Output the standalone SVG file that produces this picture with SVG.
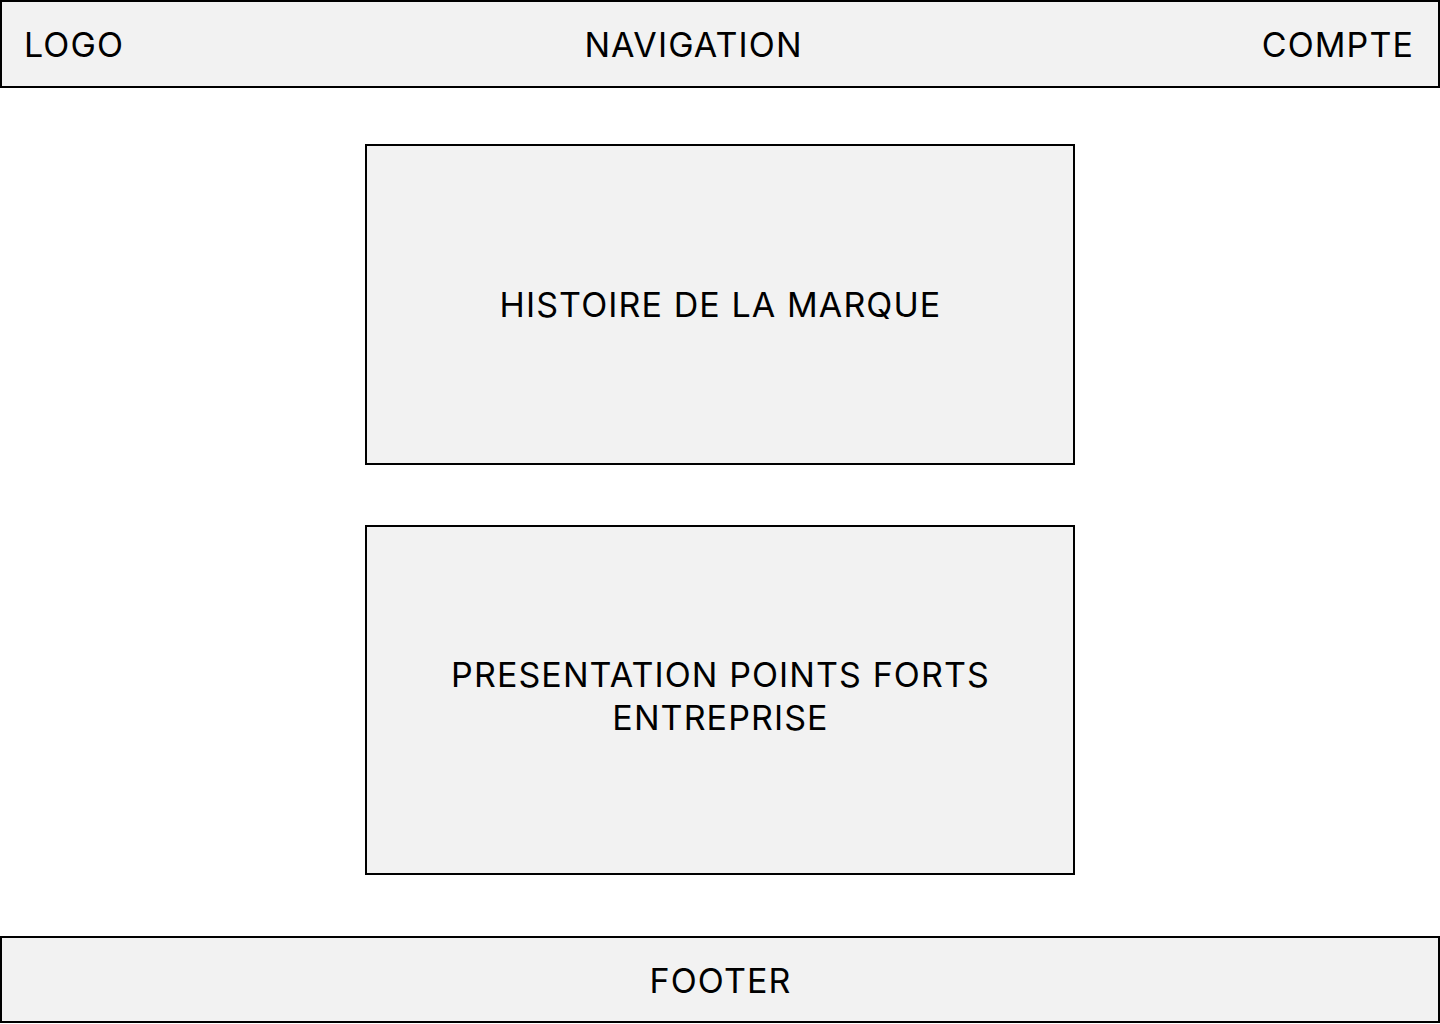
<svg xmlns="http://www.w3.org/2000/svg" width="1440" height="1024" viewBox="0 0 1440 1024">
<style>
.box{fill:#f2f2f2;stroke:#000;stroke-width:2}
.t{font-family:Inter,"Noto Sans","Liberation Sans",sans-serif;font-size:34px;fill:#000;letter-spacing:1.1px}
.c{text-anchor:middle}
</style>
<rect width="1440" height="1024" fill="#fff"/>
<g id="header">
<rect class="box" x="1" y="1" width="1438" height="86"/>
<text class="t" x="24" y="57">LOGO</text>
<text class="t c" x="693.5" y="57">NAVIGATION</text>
<text class="t" x="1414" y="57" text-anchor="end">COMPTE</text>
</g>
<g id="histoire">
<rect class="box" x="366" y="145" width="708" height="319"/>
<text class="t c" x="720.5" y="317">HISTOIRE DE LA MARQUE</text>
</g>
<g id="presentation">
<rect class="box" x="366" y="526" width="708" height="348"/>
<text class="t c" x="720.5" y="687">PRESENTATION POINTS FORTS</text>
<text class="t c" x="720.5" y="730">ENTREPRISE</text>
</g>
<g id="footer">
<rect class="box" x="1" y="937" width="1438" height="85"/>
<text class="t c" x="720.5" y="993">FOOTER</text>
</g>
<g id="connectors"/>
</svg>
